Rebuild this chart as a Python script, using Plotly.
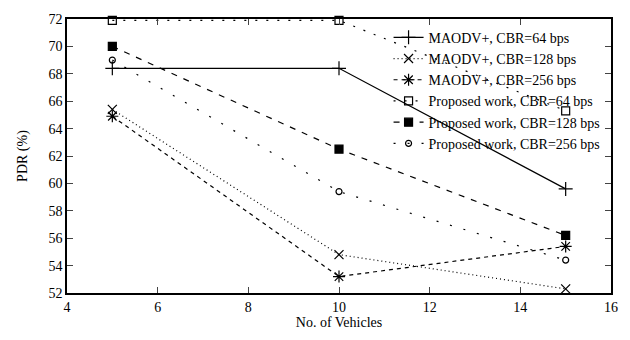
import plotly.graph_objects as go

vehicles = [5, 10, 15]
maodv_64 = [68.4, 68.4, 59.6]
maodv_128 = [65.4, 54.8, 52.3]
maodv_256 = [64.9, 53.2, 55.4]
prop_64 = [71.9, 71.9, 65.3]
prop_128 = [70.0, 62.5, 56.2]
prop_256 = [69.0, 59.4, 54.4]

names = ["MAODV+, CBR=64 bps", "MAODV+, CBR=128 bps", "MAODV+, CBR=256 bps",
         "Proposed work, CBR=64 bps", "Proposed work, CBR=128 bps", "Proposed work, CBR=256 bps"]
series = [maodv_64, maodv_128, maodv_256, prop_64, prop_128, prop_256]
dashes = ["solid", "1px,3px", "4px,4px", "2px,9px", "6px,7px", "2px,12px"]
symbols = ["cross-thin-open", "x-thin-open", "asterisk-open", "square-open", "square", "circle-open"]
msizes = [10, 9, 10, 8, 8, 6]

fig = go.Figure()
for n, ys, d, s, ms in zip(names, series, dashes, symbols, msizes):
    fig.add_trace(go.Scatter(
        x=vehicles, y=ys, name=n, mode="lines+markers",
        line=dict(color="black", width=1.2, dash=d),
        marker=dict(symbol=s, size=ms, color="black", line=dict(color="black", width=1.2)),
        cliponaxis=False,
    ))

font_family = "Liberation Serif, Times New Roman, serif"
fig.update_layout(
    width=630, height=340,
    margin=dict(l=67, r=14, t=15, b=42),
    paper_bgcolor="white", plot_bgcolor="white",
    font=dict(family=font_family, size=13, color="black"),
    showlegend=True,
    legend=dict(x=0.99, y=0.99, xanchor="right", yanchor="top",
                bgcolor="rgba(0,0,0,0)", font=dict(size=14, family=font_family),
                tracegroupgap=0, itemwidth=30),
    xaxis=dict(range=[4, 16], tickvals=[4, 6, 8, 10, 12, 14, 16],
               ticks="inside", ticklen=6, mirror="ticks", showline=True,
               linecolor="black", linewidth=1.5, showgrid=False, zeroline=False,
               title=dict(text="No. of Vehicles", standoff=4, font=dict(size=14)),
               tickfont=dict(size=14)),
    yaxis=dict(range=[52, 72], tickvals=list(range(52, 73, 2)),
               ticks="inside", ticklen=6, mirror="ticks", showline=True,
               linecolor="black", linewidth=1.5, showgrid=False, zeroline=False,
               title=dict(text="PDR (%)", standoff=18, font=dict(size=14)),
               tickfont=dict(size=14)),
)

fig.write_html("out.html")
